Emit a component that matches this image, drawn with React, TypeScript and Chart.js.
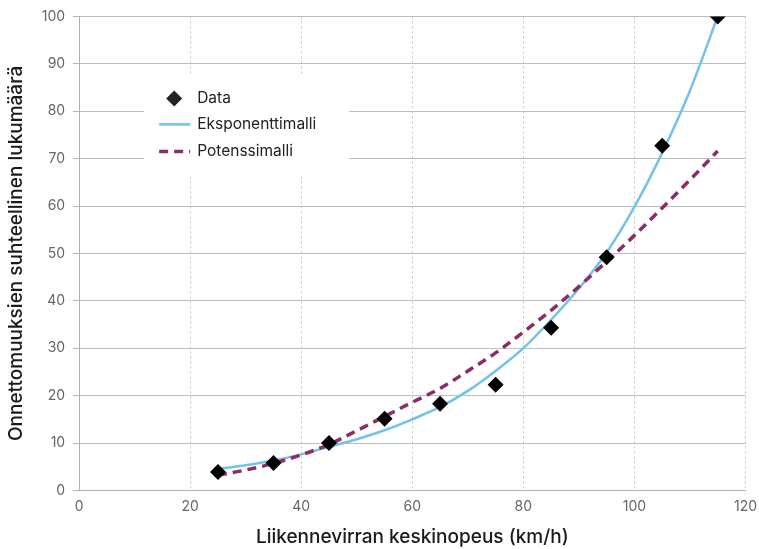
import React, { useEffect, useRef } from "react";
import { Chart, registerables } from "chart.js";

Chart.register(...registerables);

// Observed data
const speeds = [25, 35, 45, 55, 65, 75, 85, 95, 105, 115];
const accidents = [3.9, 5.8, 10.0, 15.1, 18.3, 22.3, 34.3, 49.2, 72.7, 100];

// Model curves
const curveSpeeds = [25, 30, 35, 40, 45, 50, 55, 60, 65, 70, 75, 80, 85, 90, 95, 100, 105, 110, 115];
const expModel = [4.5, 5.3, 6.3, 7.6, 9.2, 10.8, 12.7, 15.0, 17.6, 21.0, 25.2, 30.0, 36.0, 42.6, 50.2, 59.8, 71.2, 84.3, 100];
const powModel = [3.2, 4.3, 5.7, 7.5, 9.7, 12.6, 15.6, 18.6, 21.5, 25.2, 29.0, 33.4, 38.0, 43.0, 48.3, 53.8, 59.6, 65.5, 71.6];

const xTicks = [0, 20, 40, 60, 80, 100, 120];
const yTicks = [0, 10, 20, 30, 40, 50, 60, 70, 80, 90, 100];

const labels = {
  data: "Data",
  exp: "Eksponenttimalli",
  pow: "Potenssimalli",
  xTitle: "Liikennevirran keskinopeus (km/h)",
  yTitle: "Onnettomuuksien suhteellinen lukumäärä",
};

const FONT = "Inter, 'Noto Sans', sans-serif";
const EXP_COLOR = "#74c2ec";
const POW_COLOR = "#8c2c62";

const legendPlugin = {
  id: "insideLegend",
  beforeDatasetsDraw(chart: any) {
    const { ctx, chartArea } = chart;
    const bx = chartArea.left + 65;
    const by = chartArea.top + 60;
    const bw = 205;
    const bh = 97;
    ctx.save();
    ctx.fillStyle = "#ffffff";
    ctx.fillRect(bx, by, bw, bh);
    const ds = chart.data.datasets;
    const rowY = [by + 22, by + 48, by + 75];
    const textX = bx + 53;
    ctx.font = `15.5px ${FONT}`;
    ctx.fillStyle = "#222222";
    ctx.textBaseline = "middle";
    ctx.textAlign = "left";
    const mx = bx + 30;
    ctx.beginPath();
    ctx.moveTo(mx, rowY[0] - 8);
    ctx.lineTo(mx + 8, rowY[0]);
    ctx.lineTo(mx, rowY[0] + 8);
    ctx.lineTo(mx - 8, rowY[0]);
    ctx.closePath();
    ctx.fill();
    ctx.fillText(ds[0].label, textX, rowY[0]);
    ctx.strokeStyle = EXP_COLOR;
    ctx.lineWidth = 2.5;
    ctx.beginPath();
    ctx.moveTo(bx + 15, rowY[1]);
    ctx.lineTo(bx + 46, rowY[1]);
    ctx.stroke();
    ctx.fillStyle = "#222222";
    ctx.fillText(ds[1].label, textX, rowY[1]);
    ctx.strokeStyle = POW_COLOR;
    ctx.lineWidth = 3.5;
    ctx.setLineDash([9, 6]);
    ctx.beginPath();
    ctx.moveTo(bx + 15, rowY[2]);
    ctx.lineTo(bx + 46, rowY[2]);
    ctx.stroke();
    ctx.setLineDash([]);
    ctx.fillText(ds[2].label, textX, rowY[2]);
    ctx.restore();
  },
};

export default function App() {
  const ref = useRef<HTMLCanvasElement | null>(null);
  useEffect(() => {
    if (!ref.current) return;
    const chart = new Chart(ref.current, {
      type: "scatter",
      data: {
        datasets: [
          {
            label: labels.data,
            data: speeds.map((x, i) => ({ x, y: accidents[i] })),
            pointStyle: "rectRot",
            pointRadius: 8,
            backgroundColor: "#000000",
            borderColor: "#000000",
            borderWidth: 0,
            showLine: false,
            order: 0,
          },
          {
            label: labels.exp,
            data: curveSpeeds.map((x, i) => ({ x, y: expModel[i] })),
            showLine: true,
            pointRadius: 0,
            borderColor: EXP_COLOR,
            borderWidth: 2.5,
            cubicInterpolationMode: "monotone",
            order: 2,
          },
          {
            label: labels.pow,
            data: curveSpeeds.map((x, i) => ({ x, y: powModel[i] })),
            showLine: true,
            pointRadius: 0,
            borderColor: POW_COLOR,
            borderWidth: 3.5,
            borderDash: [9, 6],
            cubicInterpolationMode: "monotone",
            order: 1,
          },
        ],
      } as any,
      options: {
        animation: false,
        responsive: false,
        layout: { padding: { left: 5, right: 0, top: 8, bottom: 0 } },
        plugins: {
          legend: { display: false },
          tooltip: { enabled: false },
        },
        scales: {
          x: {
            type: "linear",
            min: 0,
            max: 120,
            afterBuildTicks: (axis: any) => {
              axis.ticks = xTicks.map((v) => ({ value: v }));
            },
            grid: {
              color: "#c4c4c4",
              tickColor: "transparent",
              lineWidth: 1,
              tickLength: 6,
            },
            border: { display: true, color: "#b0b0b0", dash: [2, 3] },
            ticks: {
              color: "#666666",
              font: { family: FONT, size: 14 },
              padding: 2,
            },
            title: {
              display: true,
              text: labels.xTitle,
              color: "#1a1a1a",
              font: { family: FONT, size: 19, weight: "500" },
              padding: { top: 9, bottom: 0 },
            },
          },
          y: {
            type: "linear",
            min: 0,
            max: 100,
            afterBuildTicks: (axis: any) => {
              axis.ticks = yTicks.map((v) => ({ value: v }));
            },
            grid: {
              color: "#bdbdbd",
              lineWidth: 1,
              tickColor: "#b0b0b0",
              tickLength: 6,
            },
            border: { display: true, color: "#b0b0b0" },
            ticks: {
              color: "#666666",
              font: { family: FONT, size: 14 },
              padding: 8,
            },
            title: {
              display: true,
              text: labels.yTitle,
              color: "#1a1a1a",
              font: { family: FONT, size: 19, weight: "500" },
              padding: { top: 0, bottom: 6 },
            },
          },
        },
      } as any,
      plugins: [legendPlugin],
    });
    return () => chart.destroy();
  }, []);
  return (
    <div style={{ position: "absolute", left: 0, top: 0, width: 759, height: 549, background: "#fff" }}>
      <canvas ref={ref} width={759} height={549} style={{ display: "block" }} />
    </div>
  );
}
